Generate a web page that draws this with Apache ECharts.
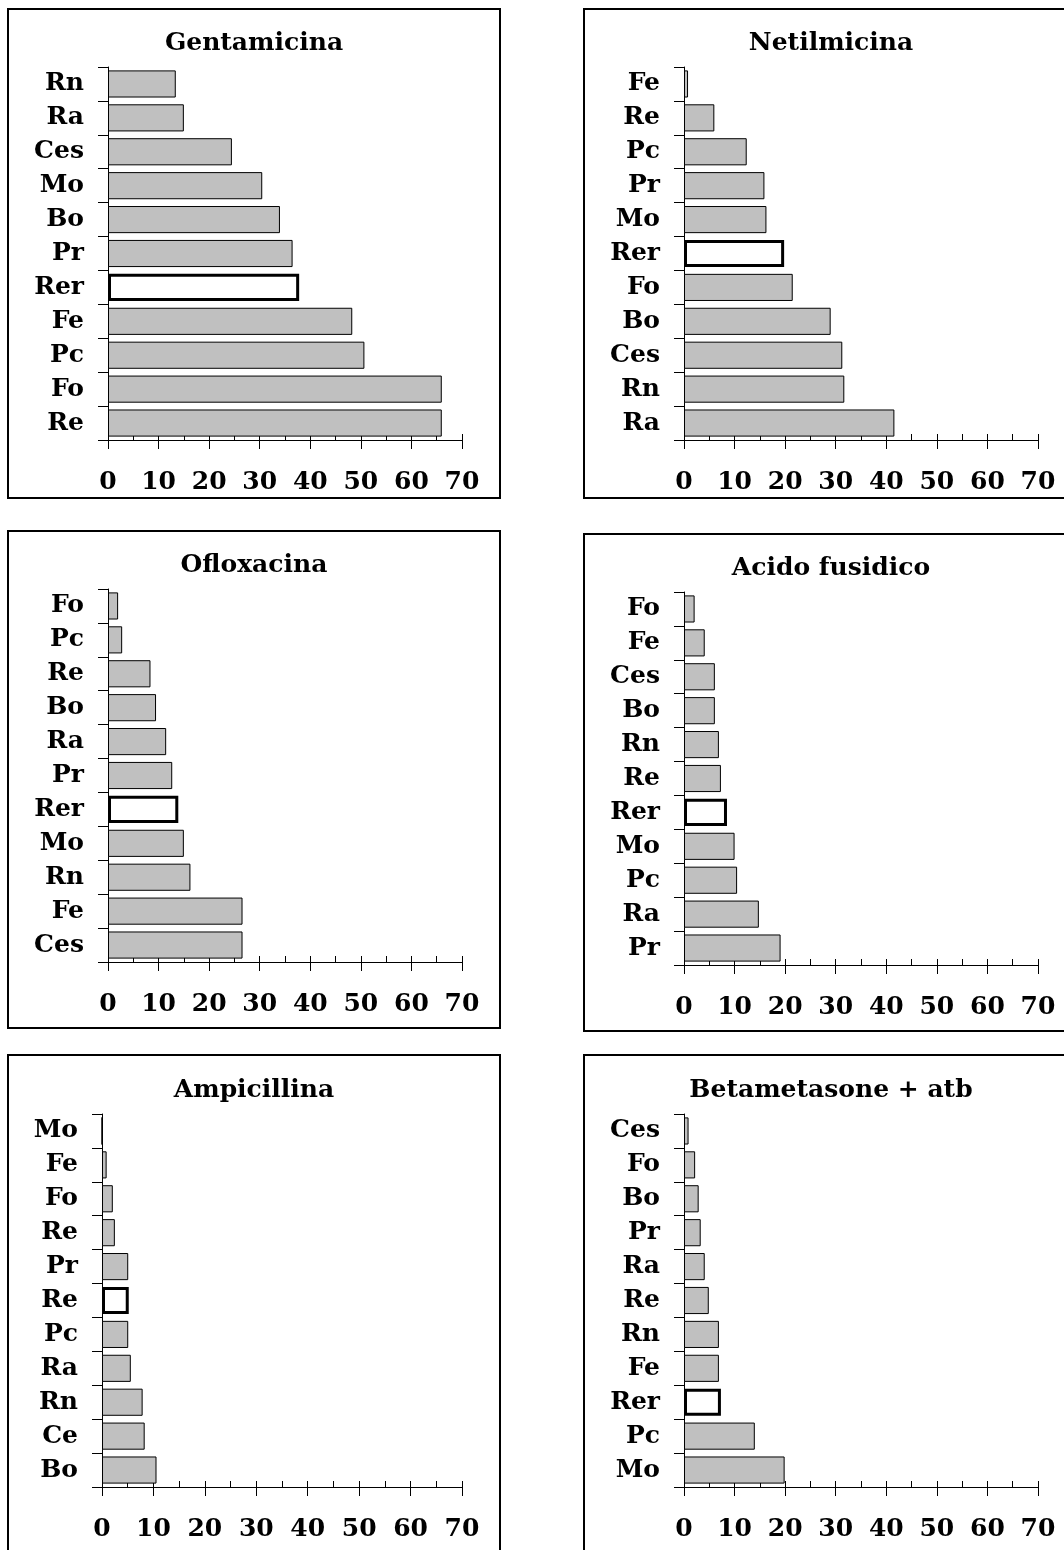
<!DOCTYPE html>
<html>
<head>
<meta charset="utf-8">
<script src="https://cdn.jsdelivr.net/npm/echarts@6/dist/echarts.min.js"></script>
<style>
  html, body { margin: 0; padding: 0; background: #fff; }
  #chart { width: 1064px; height: 1550px; }
</style>
</head>
<body>
<div id="chart"></div>
<script>
// data, top to bottom as drawn
const titles = ["Gentamicina", "Netilmicina", "Ofloxacina", "Acido fusidico", "Ampicillina", "Betametasone + atb"];

const gentamicinaLabels = ["Rn", "Ra", "Ces", "Mo", "Bo", "Pr", "Rer", "Fe", "Pc", "Fo", "Re"];
const gentamicinaValues = [13.4, 15, 24.5, 30.5, 34, 36.5, 37.8, 48.3, 50.7, 66, 66];

const netilmicinaLabels = ["Fe", "Re", "Pc", "Pr", "Mo", "Rer", "Fo", "Bo", "Ces", "Rn", "Ra"];
const netilmicinaValues = [0.8, 6, 12.4, 15.9, 16.3, 19.8, 21.5, 29, 31.3, 31.7, 41.6];

const ofloxacinaLabels = ["Fo", "Pc", "Re", "Bo", "Ra", "Pr", "Rer", "Mo", "Rn", "Fe", "Ces"];
const ofloxacinaValues = [2, 2.8, 8.4, 9.5, 11.5, 12.7, 13.9, 15, 16.3, 26.6, 26.6];

const fusidicoLabels = ["Fo", "Fe", "Ces", "Bo", "Rn", "Re", "Rer", "Mo", "Pc", "Ra", "Pr"];
const fusidicoValues = [2.1, 4.1, 6.1, 6.1, 6.9, 7.3, 8.5, 10, 10.5, 14.8, 19.1];

const ampicillinaLabels = ["Mo", "Fe", "Fo", "Re", "Pr", "Re", "Pc", "Ra", "Rn", "Ce", "Bo"];
const ampicillinaValues = [0, 0.9, 2.1, 2.5, 5.1, 5.2, 5.1, 5.6, 7.9, 8.3, 10.6];

const betametasoneLabels = ["Ces", "Fo", "Bo", "Pr", "Ra", "Re", "Rn", "Fe", "Rer", "Pc", "Mo"];
const betametasoneValues = [0.9, 2.2, 2.9, 3.3, 4.1, 4.9, 6.9, 6.9, 7.3, 14, 19.9];

// which bar is the white reference bar in each panel
const highlightIndex = [6, 5, 6, 6, 5, 8];

const xMin = 0;
const xMax = 70;
const xStep = 10;

const labelSets = [gentamicinaLabels, netilmicinaLabels, ofloxacinaLabels, fusidicoLabels, ampicillinaLabels, betametasoneLabels];
const valueSets = [gentamicinaValues, netilmicinaValues, ofloxacinaValues, fusidicoValues, ampicillinaValues, betametasoneValues];

// layout of the six framed panels
const panels = [
  { box: [8, 9, 500, 498], plot: [108, 67, 462, 440], title: [254, 43] },
  { box: [584, 9, 1078, 498], plot: [684, 67, 1038, 440], title: [831, 43] },
  { box: [8, 531, 500, 1028], plot: [108, 589, 462, 962], title: [254, 565] },
  { box: [584, 534, 1078, 1031], plot: [684, 592, 1038, 965], title: [831, 568] },
  { box: [8, 1055, 500, 1560], plot: [102, 1114, 462, 1487], title: [254, 1090] },
  { box: [584, 1055, 1078, 1560], plot: [684, 1114, 1038, 1487], title: [831, 1090] },
];

const FONT = "DejaVu Serif";
const FS = 25;

const chart = echarts.init(document.getElementById("chart"));

const grid = [], xAxis = [], yAxis = [], series = [], title = [], graphic = [];

panels.forEach((p, i) => {
  const [l, t, r, b] = p.plot;
  grid.push({ left: l, top: t, width: r - l, height: b - t });

  xAxis.push({
    type: "value", gridIndex: i, min: xMin, max: xMax, interval: xStep,
    axisLine: { show: true, onZero: false, lineStyle: { color: "#000", width: 1 } },
    axisTick: { show: true, inside: true, length: 6, lineStyle: { color: "#000" } },
    minorTick: { show: true, splitNumber: 2, length: 6, lineStyle: { color: "#000" } },
    splitLine: { show: false },
    axisLabel: { color: "#000", fontFamily: FONT, fontWeight: "bold", fontSize: FS, margin: 30 },
  });
  yAxis.push({
    type: "category", gridIndex: i, inverse: true, data: labelSets[i],
    axisLine: { show: true, lineStyle: { color: "#000", width: 1 } },
    axisTick: { show: true, length: 10, lineStyle: { color: "#000" } },
    axisLabel: { color: "#000", fontFamily: FONT, fontWeight: "bold", fontSize: FS, margin: 24 },
  });

  const hi = highlightIndex[i];
  series.push({
    type: "bar", xAxisIndex: i, yAxisIndex: i, barCategoryGap: "20%",
    itemStyle: { color: "#c0c0c0", borderColor: "#000", borderWidth: 1 },
    data: valueSets[i].map((v, j) => j === hi
      ? { value: v, itemStyle: { color: "#fff", borderColor: "#000", borderWidth: 3 } }
      : v),
  });

  title.push({
    text: titles[i], left: p.title[0], top: p.title[1] - 12, textAlign: "center", padding: 0,
    textStyle: { color: "#000", fontFamily: FONT, fontWeight: "bold", fontSize: FS },
  });

  const [bx1, by1, bx2, by2] = p.box;
  graphic.push({
    type: "rect", silent: true, z: -10,
    shape: { x: bx1, y: by1, width: bx2 - bx1, height: by2 - by1 },
    style: { fill: null, stroke: "#000", lineWidth: 2 },
  });
});

// overlay axes: major ticks also poke below the axis line
panels.forEach((p, i) => {
  const [l, t, r, b] = p.plot;
  const gi = panels.length + i;
  grid.push({ left: l, top: t, width: r - l, height: b - t });
  xAxis.push({
    type: "value", gridIndex: gi, min: xMin, max: xMax, interval: xStep,
    axisLine: { show: false, onZero: false },
    axisTick: { show: true, length: 9, lineStyle: { color: "#000" } },
    axisLabel: { show: false }, splitLine: { show: false },
  });
  yAxis.push({ type: "value", gridIndex: gi, show: false });
});

chart.setOption({
  animation: false,
  title: title,
  grid: grid,
  xAxis: xAxis,
  yAxis: yAxis,
  series: series,
  graphic: graphic,
});
</script>
</body>
</html>
